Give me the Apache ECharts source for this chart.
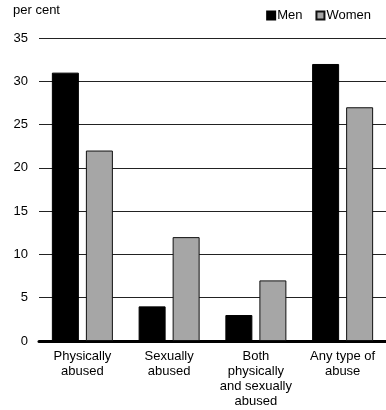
<!DOCTYPE html>
<html>
<head>
<meta charset="utf-8">
<script src="https://cdn.jsdelivr.net/npm/echarts@6/dist/echarts.min.js"></script>
<style>
  html, body { margin: 0; padding: 0; background: #fff; }
  #chart { width: 386px; height: 410px; }
</style>
</head>
<body>
<div id="chart"></div>
<script>
const categories = ['Physically\nabused', 'Sexually\nabused', 'Both\nphysically\nand sexually\nabused', 'Any type of\nabuse'];
const men = [31, 4, 3, 32];
const women = [22, 12, 7, 27];

let myChart = echarts.init(document.getElementById('chart'));

const font = 'Liberation Sans, Arial, sans-serif';

let option = {
    animation: false,
    textStyle: { fontFamily: font },
    title: {
        text: 'per cent',
        left: 13,
        top: 4,
        padding: 0,
        textStyle: { fontSize: 13, fontWeight: 'normal', color: '#000', fontFamily: font }
    },
    legend: {
        data: ['Men', 'Women'],
        right: 10,
        top: 4,
        itemWidth: 8,
        itemHeight: 8,
        itemGap: 13,
        icon: 'rect',
        textStyle: { fontSize: 13, color: '#000', padding: [0, 0, 0, -3] }
    },
    grid: { left: 39, right: 0, top: 38, bottom: 69, containLabel: false },
    xAxis: {
        type: 'category',
        data: categories,
        axisLine: { lineStyle: { color: '#000', width: 3 } },
        axisTick: { show: false },
        axisLabel: { color: '#000', fontSize: 13, lineHeight: 15, margin: 8, interval: 0 }
    },
    yAxis: {
        type: 'value',
        min: 0,
        max: 35,
        interval: 5,
        axisLine: { show: false },
        axisTick: { show: false },
        axisLabel: { color: '#000', fontSize: 13, margin: 11 },
        splitLine: { lineStyle: { color: '#222', width: 1 } }
    },
    series: [
        {
            name: 'Men',
            type: 'bar',
            data: men,
            barWidth: 27,
            barGap: '26%',
            itemStyle: { color: '#000', borderColor: '#000', borderWidth: 1 }
        },
        {
            name: 'Women',
            type: 'bar',
            data: women,
            barWidth: 27,
            itemStyle: { color: '#a6a6a6', borderColor: '#111', borderWidth: 1 }
        }
    ]
};

myChart.setOption(option);
</script>
</body>
</html>
